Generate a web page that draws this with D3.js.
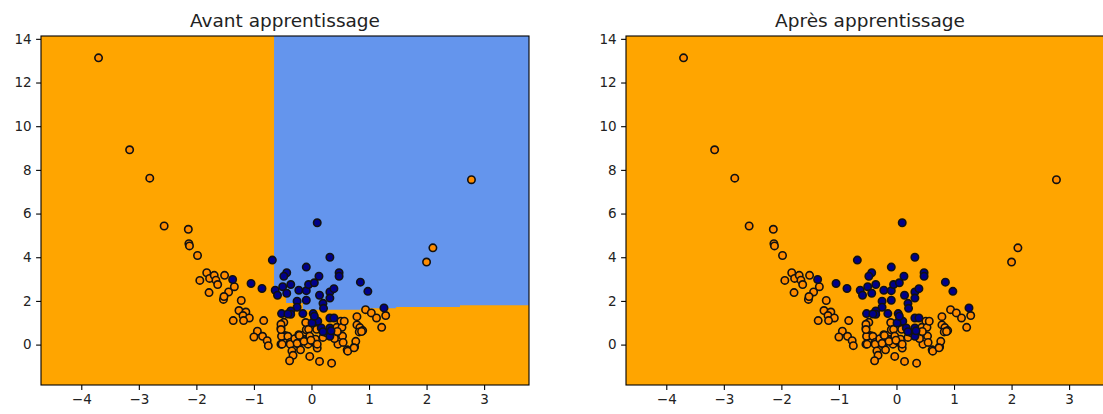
<!DOCTYPE html>
<html>
<head>
<meta charset="utf-8">
<script src="https://cdn.jsdelivr.net/npm/d3@7"></script>
<style>
  html, body { margin: 0; padding: 0; background: #fff; }
  svg { display: block; }
  text { font-family: "DejaVu Sans", sans-serif; fill: #222; }
</style>
</head>
<body>
<svg id="chart" width="1103" height="414"></svg>
<script>
// ---------- data ----------
const titles = ["Avant apprentissage", "Après apprentissage"];
const xTicks = [-4, -3, -2, -1, 0, 1, 2, 3];
const yTicks = [0, 2, 4, 6, 8, 10, 12, 14];

// class 0 (orange) points
const class0X = [-3.70,-3.16,-2.81,-2.56,2.00,2.11,2.78,
  -2.14,-2.13,-2.12,-1.98,-1.82,-1.94,-1.77,-1.69,-1.66,-1.63,-1.51,-1.78,-1.44,-1.53,-1.52,-1.34,
  -1.22,-1.26,-1.14,-1.19,-1.08,-1.36,-1.18,-0.83,-0.94,-1.00,-0.85,-0.77,-0.75,
  -0.48,-0.53,-0.53,-0.50,-0.45,-0.52,-0.41,-0.37,-0.53,-0.37,-0.34,-0.32,-0.38,-0.29,-0.22,-0.23,-0.19,
  -0.13,-0.09,-0.12,-0.10,-0.05,-0.03,-0.06,0.01,-0.03,0.07,0.08,0.10,0.09,0.14,0.35,0.20,-0.25,
  0.51,0.44,0.53,0.57,0.49,0.46,0.54,0.62,0.75,0.77,0.79,0.79,0.84,0.83,0.89,0.94,1.04,1.13,1.22,1.29,0.40,0.55,
  -0.21,-0.13,-0.01,0.10,0.63,0.74,0.87,-0.53,-0.51,0.25,0.45];
const class0Y = [13.13,8.92,7.62,5.43,3.78,4.43,7.55,
  5.28,4.62,4.52,4.08,3.29,2.94,3.03,3.17,2.95,2.75,3.17,2.38,2.41,2.07,2.20,2.65,
  2.02,1.56,1.49,1.33,1.22,1.10,1.10,1.10,0.61,0.35,0.38,0.18,-0.05,
  1.02,0.76,0.93,0.45,0.41,0.38,0.38,0.10,0.02,0.02,-0.29,-0.49,-0.74,0.27,0.45,0.02,-0.24,
  0.45,0.68,0.23,1.01,0.70,0.39,0.02,0.18,-0.54,0.25,0.02,-0.16,0.70,-0.77,-0.85,0.33,0.06,
  1.07,0.79,0.79,1.07,0.22,0.02,0.39,-0.24,-0.10,0.15,1.28,0.90,0.78,0.58,0.64,1.60,1.45,1.22,0.79,1.33,0.28,0.10,
  0.42,0.15,0.20,0.02,-0.30,-0.15,0.60,0.69,0.02,0.55,0.60];

// class 1 (dark blue) points
const class1X = [0.10,-0.68,-0.09,0.32,-0.43,-0.48,0.13,0.48,0.48,0.85,0.98,-1.05,-0.86,-1.37,
  -0.63,-0.59,-0.50,-0.43,-0.36,-0.22,-0.09,-0.05,0.05,0.14,0.32,0.39,0.32,-0.09,-0.25,-0.25,
  0.20,0.21,-0.52,-0.36,-0.36,-0.15,0.03,0.06,0.11,0.01,0.32,0.39,0.17,0.32,0.32,1.26,-0.41,0.05,0.20,0.34];
const class1Y = [5.58,3.87,3.55,4.00,3.29,3.13,3.13,3.29,3.13,2.86,2.44,2.80,2.57,2.98,
  2.49,2.26,2.65,2.35,2.75,2.49,2.47,2.75,2.83,2.26,2.41,2.56,2.13,2.03,1.99,1.71,
  1.89,1.66,1.42,1.54,1.39,1.42,1.42,1.15,1.07,0.99,1.22,1.22,0.76,0.76,0.38,1.68,1.40,1.30,0.59,0.63];

// decision region of class 1 before training (polygon vertices, data units)
const regionX = [-0.65,-0.65,-0.58,-0.58,-0.44,-0.44,-0.15,-0.15,0.85,0.85,1.47,1.47,2.58,2.58,3.78,3.78];
const regionY = [14.2,2.60,2.60,2.21,2.21,1.91,1.91,1.60,1.60,1.66,1.66,1.72,1.72,1.80,1.80,14.2];

// ---------- layout ----------
const allX = class0X.concat(class1X), allY = class0Y.concat(class1Y);
const xDomain = [d3.min(allX) - 1, d3.max(allX) + 1];
const yDomain = [d3.min(allY) - 1, d3.max(allY) + 1];

const panels = [
  {left: 41, width: 488, region: true},
  {left: 626, width: 488, region: false}
];
const plotTop = 36, plotH = 349;
const colors = {bg0: "#FFA500", bg1: "#6495ED", pt0: "#FF8C00", pt1: "#00008B"};

const svg = d3.select("#chart");

panels.forEach((p, i) => {
  const x = d3.scaleLinear().domain(xDomain).range([p.left, p.left + p.width]);
  const y = d3.scaleLinear().domain(yDomain).range([plotTop + plotH, plotTop]);
  const g = svg.append("g");
  const clipId = "clip" + i;
  g.append("clipPath").attr("id", clipId)
    .append("rect").attr("x", p.left).attr("y", plotTop).attr("width", p.width).attr("height", plotH);

  g.append("rect").attr("x", p.left).attr("y", plotTop).attr("width", p.width).attr("height", plotH)
    .attr("fill", colors.bg0);

  if (p.region) {
    const line = d3.line().x(d => x(d[0])).y(d => y(d[1]));
    const pts = regionX.map((v, k) => [v, regionY[k]]);
    g.append("path").attr("d", line(pts) + "Z").attr("fill", colors.bg1)
      .attr("clip-path", `url(#${clipId})`);
  }

  const pg = g.append("g").attr("clip-path", `url(#${clipId})`);
  pg.selectAll("circle.c0").data(class0X.map((v, k) => [v, class0Y[k]])).join("circle")
    .attr("class", "c0").attr("cx", d => x(d[0])).attr("cy", d => y(d[1])).attr("r", 3.7)
    .attr("fill", colors.pt0).attr("stroke", "#111").attr("stroke-width", 1.6);
  pg.selectAll("circle.c1").data(class1X.map((v, k) => [v, class1Y[k]])).join("circle")
    .attr("class", "c1").attr("cx", d => x(d[0])).attr("cy", d => y(d[1])).attr("r", 3.7)
    .attr("fill", colors.pt1).attr("stroke", "#111").attr("stroke-width", 1.6);

  const xAxis = d3.axisBottom(x).tickValues(xTicks).tickSize(4.9).tickPadding(4.5)
    .tickFormat(d => d < 0 ? "\u2212" + Math.abs(d) : d);
  const yAxis = d3.axisLeft(y).tickValues(yTicks).tickSize(4.9).tickPadding(4.5);
  const gx = g.append("g").attr("transform", `translate(0,${plotTop + plotH})`).call(xAxis);
  const gy = g.append("g").attr("transform", `translate(${p.left},0)`).call(yAxis);
  [gx, gy].forEach(a => {
    a.select(".domain").remove();
    a.selectAll(".tick line").attr("stroke", "#000").attr("stroke-width", 1.1);
    a.selectAll(".tick text").attr("font-size", "13.5px").attr("fill", "#222")
      .style("font-family", "'DejaVu Sans', sans-serif");
  });

  g.append("rect").attr("x", p.left).attr("y", plotTop).attr("width", p.width).attr("height", plotH)
    .attr("fill", "none").attr("stroke", "#000").attr("stroke-width", 1.1);

  g.append("text").attr("x", p.left + p.width / 2).attr("y", plotTop - 9)
    .attr("text-anchor", "middle").attr("font-size", "18.5px").text(titles[i]);
});
</script>
</body>
</html>
